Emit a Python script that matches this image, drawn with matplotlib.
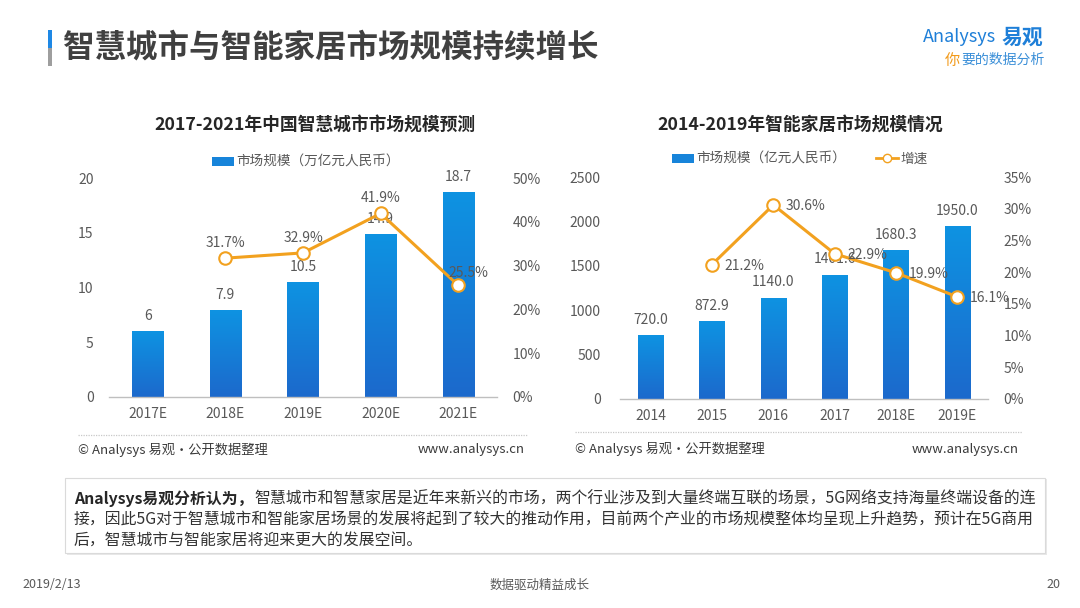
import matplotlib
matplotlib.use('Agg')
import matplotlib.pyplot as plt
import numpy as np
from matplotlib.patches import Rectangle
from matplotlib.lines import Line2D
from matplotlib.colors import LinearSegmentedColormap

plt.rcParams['font.family'] = ['Noto Sans CJK SC', 'DejaVu Sans']

# ---------------- data ----------------
city_years = ['2017E', '2018E', '2019E', '2020E', '2021E']
city_size = [6, 7.9, 10.5, 14.9, 18.7]
city_size_labels = ['6', '7.9', '10.5', '14.9', '18.7']
city_growth = [np.nan, 31.7, 32.9, 41.9, 25.5]
city_yticks = [0, 5, 10, 15, 20]
city_pticks = [0, 10, 20, 30, 40, 50]

home_years = ['2014', '2015', '2016', '2017', '2018E', '2019E']
home_size = [720.0, 872.9, 1140.0, 1401.6, 1680.3, 1950.0]
home_growth = [np.nan, 21.2, 30.6, 22.9, 19.9, 16.1]
home_yticks = [0, 500, 1000, 1500, 2000, 2500]
home_pticks = [0, 5, 10, 15, 20, 25, 30, 35]

W, H = 1080, 608
fig = plt.figure(figsize=(W / 100, H / 100), dpi=100)
fig.patch.set_facecolor('white')

BAR_TOP = '#0E93E2'
BAR_BOT = '#1C69CC'
LINE_C = '#F2A11F'
TXT = '#595959'
DARK = '#3A3A3A'
cmap = LinearSegmentedColormap.from_list('g', [BAR_BOT, BAR_TOP])


def fx(x):
    return x / W


def fy(y):
    return 1 - y / H


def ftext(x, y, s, **kw):
    return fig.text(fx(x), fy(y), s, **kw)


def gradient_bars(ax, bars):
    grad = np.linspace(0, 1, 256).reshape(-1, 1)
    xl, yl = ax.get_xlim(), ax.get_ylim()
    for b in bars:
        x0, y0 = b.get_x(), b.get_y()
        w, h = b.get_width(), b.get_height()
        im = ax.imshow(grad, extent=[x0, x0 + w, y0, y0 + h], origin='lower',
                       cmap=cmap, aspect='auto', zorder=2, interpolation='bilinear')
        im.set_clip_path(b)
        b.set_facecolor('none')
    ax.set_xlim(xl)
    ax.set_ylim(yl)


def style_axes(ax, ax2, left_pad, right_pad):
    for a in (ax, ax2):
        for s in a.spines.values():
            s.set_visible(False)
    ax.spines['bottom'].set_visible(True)
    ax.spines['bottom'].set_color('#BFBFBF')
    ax.spines['bottom'].set_linewidth(1.0)
    ax.tick_params(axis='both', length=0, labelsize=10, colors=TXT)
    ax.tick_params(axis='y', pad=left_pad)
    ax.tick_params(axis='x', pad=7)
    ax2.tick_params(axis='y', length=0, labelsize=10, colors=TXT, pad=right_pad)
    for t in ax2.get_yticklabels():
        t.set_horizontalalignment('left')


# ---------------- left chart ----------------
ax1 = fig.add_axes([fx(109), fy(397), fx(497) - fx(109), (397 - 178) / H])
x1 = np.arange(len(city_years))
bars1 = ax1.bar(x1, city_size, width=0.4, zorder=2)
ax1.set_xlim(-0.5, len(city_years) - 0.5)
ax1.set_ylim(0, 20)
ax1.set_yticks(city_yticks)
ax1.set_xticks(x1)
ax1.set_xticklabels(city_years)
gradient_bars(ax1, bars1)
for xi, v, lab in zip(x1, city_size, city_size_labels):
    ax1.annotate(lab, (xi, v), xytext=(0, 11), textcoords='offset points',
                 ha='center', va='center', fontsize=10, color=TXT, zorder=3)
ax1b = ax1.twinx()
ax1b.set_ylim(0, 50)
ax1b.set_yticks(city_pticks)
ax1b.set_yticklabels([f'{p}%' for p in city_pticks])
ax1b.plot(x1, city_growth, color=LINE_C, lw=2.2, marker='o', ms=9,
          mfc='white', mec=LINE_C, mew=1.5, zorder=4)
offs1 = [None, (0, 11), (0, 11), (0, 11), (7, 9)]
for xi, g, o in zip(x1, city_growth, offs1):
    if o is None or np.isnan(g):
        continue
    ax1b.annotate(f'{g}%', (xi, g), xytext=o, textcoords='offset points',
                  ha='center', va='center', fontsize=10, color=TXT, zorder=5)
style_axes(ax1, ax1b, 11, 11)
ax1.legend([Rectangle((0, 0), 1, 1, fc='#1784DA', ec='none')],
           ['市场规模（万亿元人民币）'], loc='center',
           bbox_to_anchor=(fx(306), fy(162)), bbox_transform=fig.transFigure,
           frameon=False, fontsize=9.8, handlelength=1.6, handleheight=0.6,
           handletextpad=0.2, labelcolor=TXT)

# ---------------- right chart ----------------
ax2 = fig.add_axes([fx(620), fy(399), fx(988) - fx(620), (399 - 177) / H])
x2 = np.arange(len(home_years))
bars2 = ax2.bar(x2, home_size, width=0.41, zorder=2)
ax2.set_xlim(-0.5, len(home_years) - 0.5)
ax2.set_ylim(0, 2500)
ax2.set_yticks(home_yticks)
ax2.set_xticks(x2)
ax2.set_xticklabels(home_years)
gradient_bars(ax2, bars2)
for xi, v in zip(x2, home_size):
    ax2.annotate(f'{v:.1f}', (xi, v), xytext=(0, 11), textcoords='offset points',
                 ha='center', va='center', fontsize=10, color=TXT, zorder=3)
ax2b = ax2.twinx()
ax2b.set_ylim(0, 35)
ax2b.set_yticks(home_pticks)
ax2b.set_yticklabels([f'{p}%' for p in home_pticks])
ax2b.plot(x2, home_growth, color=LINE_C, lw=2.2, marker='o', ms=9,
          mfc='white', mec=LINE_C, mew=1.5, zorder=4)
for xi, g in zip(x2, home_growth):
    if np.isnan(g):
        continue
    ax2b.annotate(f'{g}%', (xi, g), xytext=(9, -1), textcoords='offset points',
                  ha='left', va='center', fontsize=10, color=TXT, zorder=5)
style_axes(ax2, ax2b, 14, 11)
ax2.legend([Rectangle((0, 0), 1, 1, fc='#1784DA', ec='none'),
            Line2D([0], [0], color=LINE_C, lw=2, marker='o', ms=6, mfc='white', mec=LINE_C)],
           ['市场规模（亿元人民币）', '增速'], loc='center', ncol=2,
           bbox_to_anchor=(fx(800), fy(159)), bbox_transform=fig.transFigure,
           frameon=False, fontsize=9.8, handlelength=1.6, handleheight=0.6,
           handletextpad=0.2, columnspacing=2.2, labelcolor=TXT)

# ---------------- chart titles & sources ----------------
ftext(315, 125, '2017-2021年中国智慧城市市场规模预测', ha='center', va='center',
      fontsize=12.8, fontweight='bold', color='#262626')
ftext(800, 125, '2014-2019年智能家居市场规模情况', ha='center', va='center',
      fontsize=12.8, fontweight='bold', color='#262626')

for (xa, xb, yl, yt) in [(78, 528, 435, 450), (575, 1022, 432, 449)]:
    fig.add_artist(Line2D([fx(xa), fx(xb)], [fy(yl), fy(yl)], transform=fig.transFigure,
                          color='#C8C8C8', lw=0.9, ls=(0, (1, 1))))
    ftext(xa, yt, '© Analysys 易观·公开数据整理', ha='left', va='center',
          fontsize=9.5, color=DARK)
    ftext(xb - 3, yt, 'www.analysys.cn', ha='right', va='center',
          fontsize=9.5, color=DARK)

# ---------------- page header ----------------
fig.add_artist(Rectangle((fx(48), fy(48)), fx(4), 18 / H, transform=fig.transFigure,
                         fc='#1E88E5', ec='none'))
fig.add_artist(Rectangle((fx(48), fy(66)), fx(4), 18 / H, transform=fig.transFigure,
                         fc='#9E9E9E', ec='none'))
ftext(63, 48, '智慧城市与智能家居市场规模持续增长', ha='left', va='center',
      fontsize=22.7, fontweight='bold', color='#404040')

ftext(923, 37, 'Analysys', ha='left', va='center', fontsize=13, color='#1E7FD8',
      style='italic')
ftext(1002, 37, '易观', ha='left', va='center', fontsize=15, fontweight='bold',
      color='#1E7FD8')
ftext(945, 60, '你', ha='left', va='center', fontsize=11, color='#F29A1A', style='italic')
ftext(961, 60, '要的数据分析', ha='left', va='center', fontsize=10, color='#3B8FD8',
      style='italic')

# ---------------- analysis text box ----------------
fig.add_artist(Rectangle((fx(67), fy(555)), (1047 - 67) / W, (555 - 479) / H,
                         transform=fig.transFigure, fc='#E8E8E8', ec='none', zorder=1))
fig.add_artist(Rectangle((fx(65), fy(553)), (1045 - 65) / W, (553 - 478) / H,
                         transform=fig.transFigure, fc='white', ec='#DADADA', lw=0.8, zorder=2))

fs = 11.4
bold = ftext(74, 499, 'Analysys易观分析认为，', ha='left', va='center', fontsize=fs,
             fontweight='bold', color='#262626', zorder=3)
fig.canvas.draw()
bb = bold.get_window_extent(renderer=fig.canvas.get_renderer())
ftext(bb.x1 + 1, 499, '智慧城市和智慧家居是近年来新兴的市场，两个行业涉及到大量终端互联的场景，5G网络支持海量终端设备的连',
      ha='left', va='center', fontsize=fs, color='#333333', zorder=3)
ftext(74, 520, '接，因此5G对于智慧城市和智能家居场景的发展将起到了较大的推动作用，目前两个产业的市场规模整体均呈现上升趋势，预计在5G商用',
      ha='left', va='center', fontsize=fs, color='#333333', zorder=3)
ftext(74, 540, '后，智慧城市与智能家居将迎来更大的发展空间。',
      ha='left', va='center', fontsize=fs, color='#333333', zorder=3)

# ---------------- page footer ----------------
ftext(22, 585, '2019/2/13', ha='left', va='center', fontsize=9, color=TXT)
ftext(540, 585, '数据驱动精益成长', ha='center', va='center', fontsize=9, color=TXT)
ftext(1060, 585, '20', ha='right', va='center', fontsize=9, color=TXT)

fig.savefig('out.png', dpi=100, facecolor='white')
